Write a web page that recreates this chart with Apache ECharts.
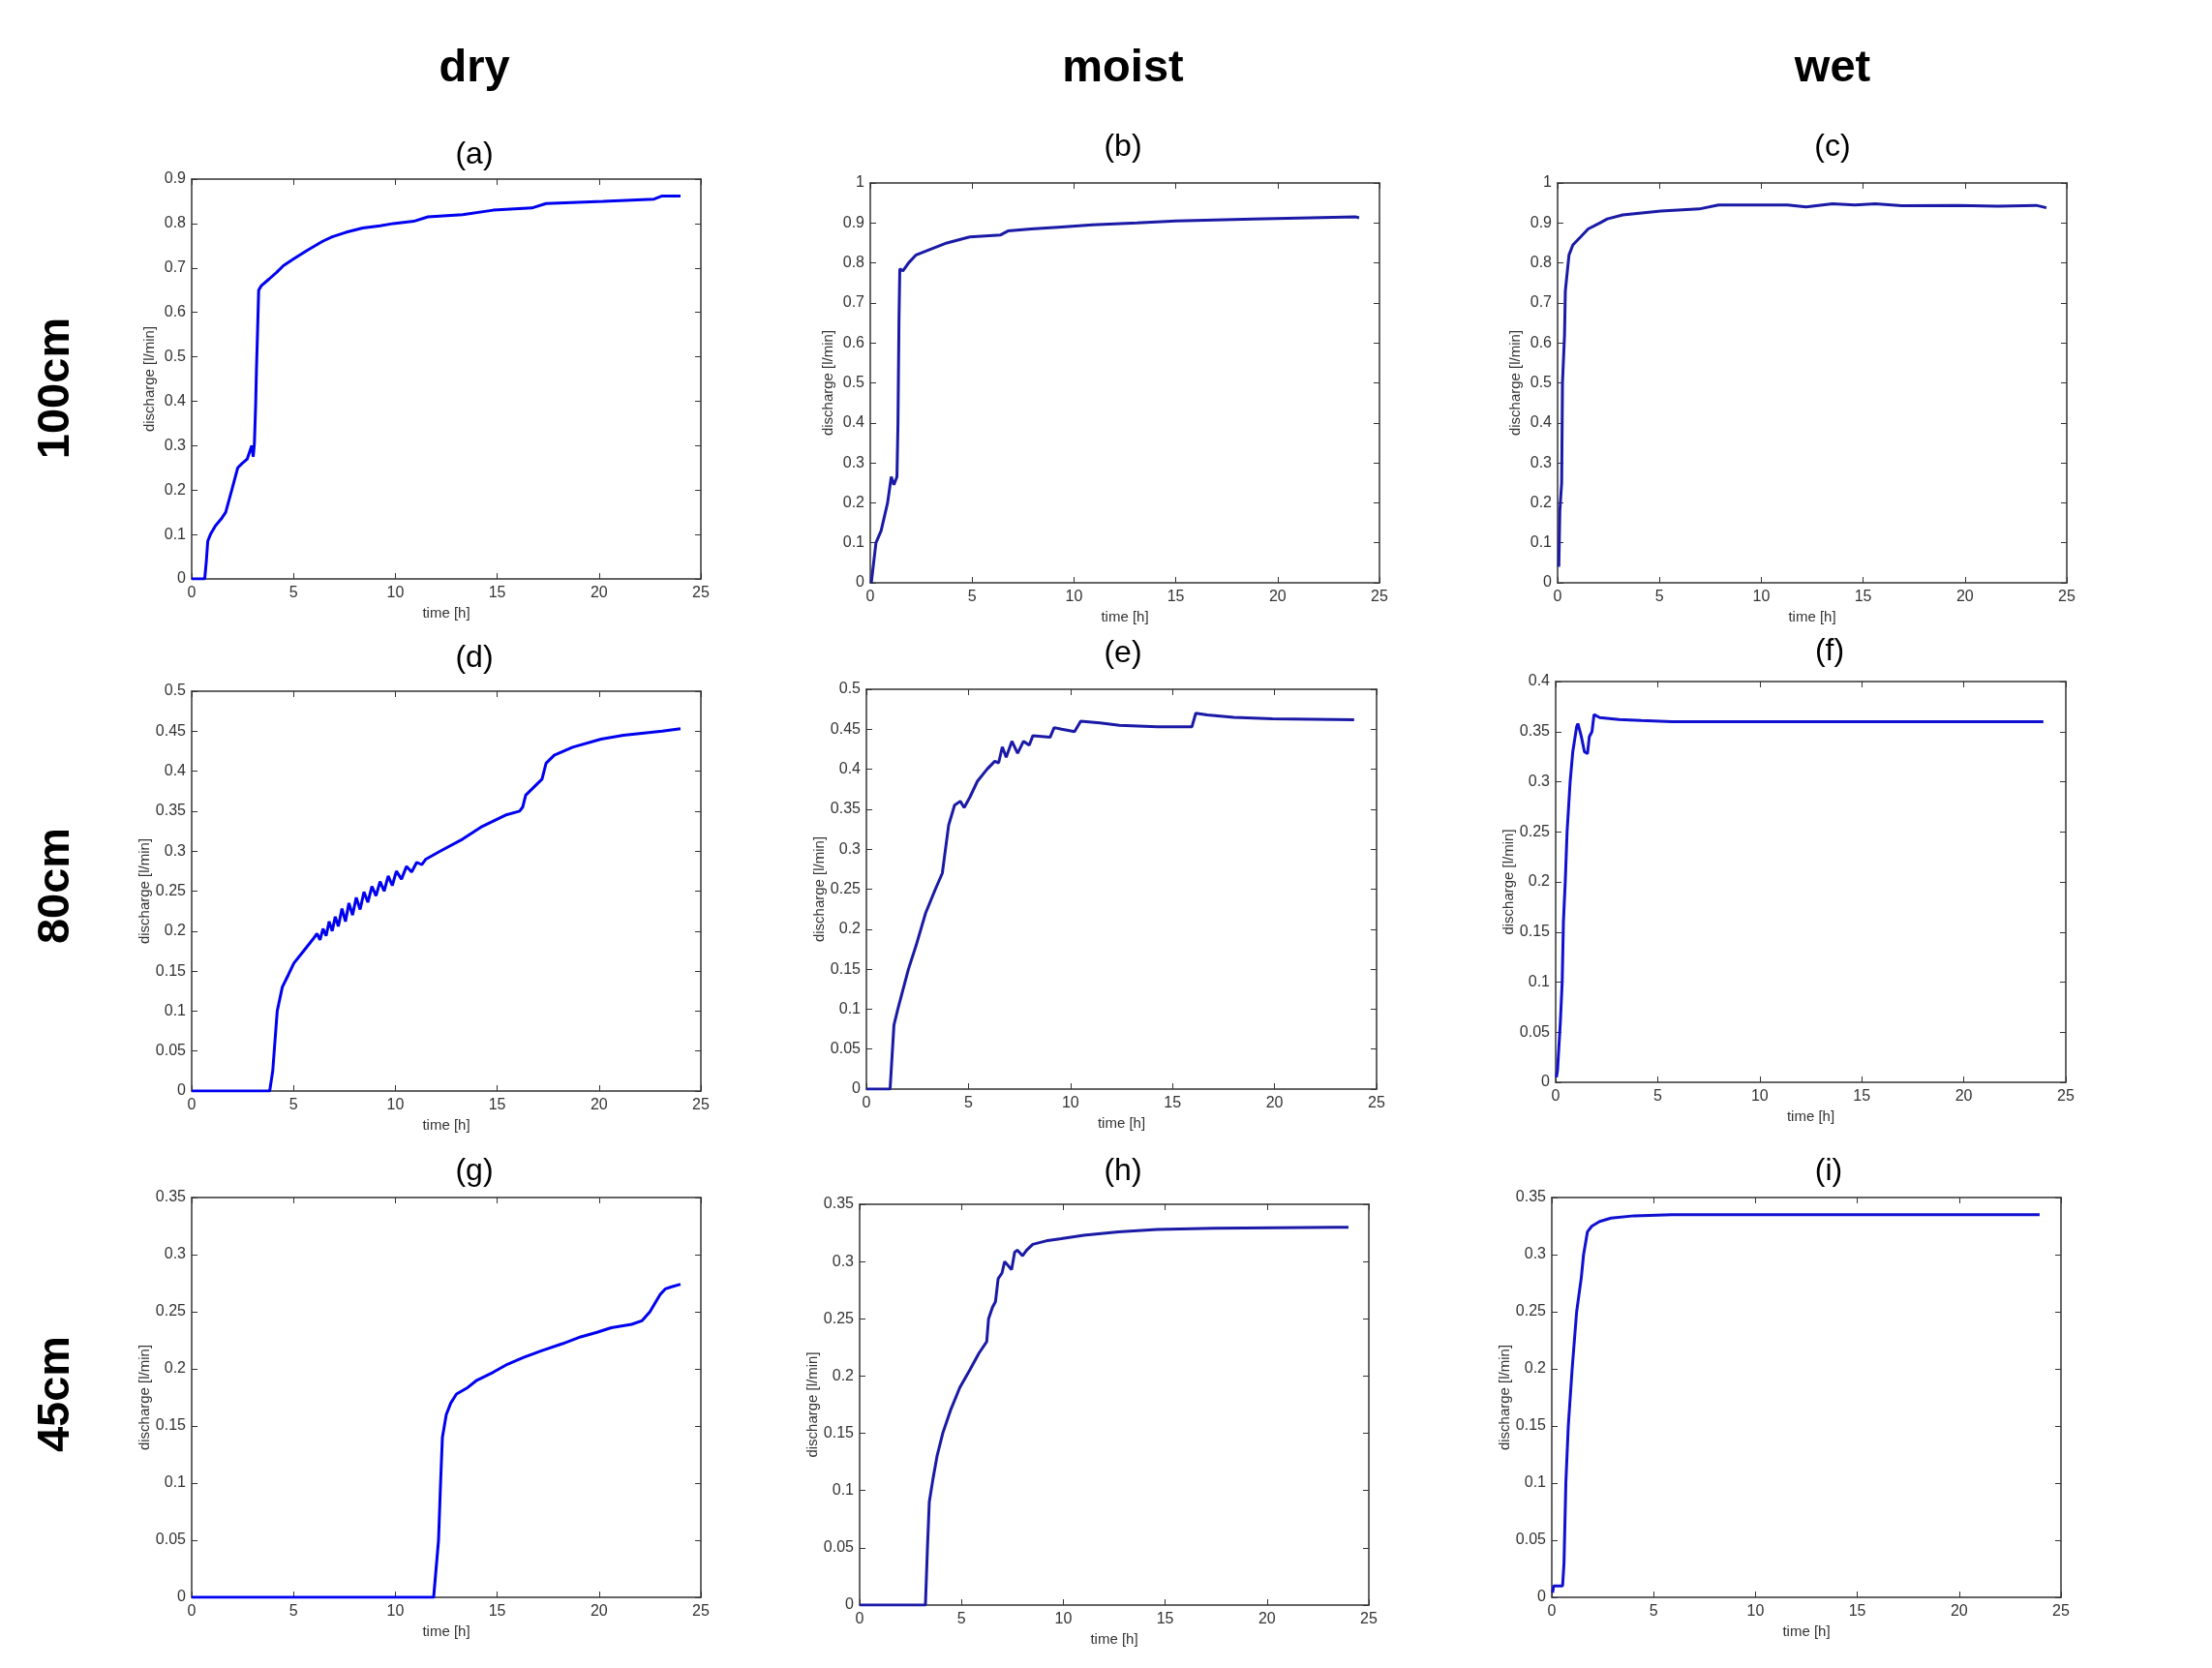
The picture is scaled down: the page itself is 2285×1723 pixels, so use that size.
<!DOCTYPE html>
<html>
<head>
<meta charset="utf-8">
<title>discharge</title>
<script src="https://cdn.jsdelivr.net/npm/echarts@6/dist/echarts.min.js"></script>
<style>
  html, body { margin: 0; padding: 0; background: #fff; }
  #main { width: 2285px; height: 1723px; }
</style>
</head>
<body>
<div id="main"></div>
<script>
// column / row headings
var columns = ['dry', 'moist', 'wet']
var rows = ['100cm', '80cm', '45cm']
var letters = ['(a)', '(b)', '(c)', '(d)', '(e)', '(f)', '(g)', '(h)', '(i)']

// y axis maxima and steps for each panel
var yMax = [0.9, 1, 1, 0.5, 0.5, 0.4, 0.35, 0.35, 0.35]
var yStep = [0.1, 0.1, 0.1, 0.05, 0.05, 0.05, 0.05, 0.05, 0.05]

// (a) dry 100cm
var tA = [0, 0.64, 0.72, 0.79, 0.92, 1.17, 1.45, 1.67, 1.97, 2.26, 2.48, 2.73, 2.95, 3.02, 3.08, 3.14, 3.18, 3.23, 3.29, 3.42, 3.8, 4.17, 4.5, 5.0, 5.68, 6.43, 6.9, 7.56, 8.4, 9.25, 9.9, 10.9, 11.6, 13.3, 14.8, 16.7, 17.4, 20.2, 22.7, 23.1, 24.0]
var qA = [0, 0, 0.04, 0.085, 0.1, 0.12, 0.135, 0.15, 0.2, 0.25, 0.26, 0.27, 0.3, 0.275, 0.305, 0.39, 0.47, 0.55, 0.65, 0.66, 0.675, 0.69, 0.705, 0.72, 0.74, 0.76, 0.77, 0.78, 0.79, 0.795, 0.8, 0.805, 0.815, 0.82, 0.83, 0.835, 0.845, 0.85, 0.855, 0.862, 0.862]

// (b) moist 100cm
var tB = [0.05, 0.28, 0.53, 0.85, 1.03, 1.16, 1.31, 1.36, 1.41, 1.45, 1.6, 1.88, 2.25, 3.0, 3.76, 4.88, 6.4, 6.76, 7.9, 9.4, 10.9, 13.1, 15.0, 18.8, 23.85, 24.0]
var qB = [0, 0.1, 0.13, 0.2, 0.265, 0.245, 0.265, 0.4, 0.66, 0.785, 0.78, 0.8, 0.82, 0.835, 0.85, 0.865, 0.87, 0.88, 0.885, 0.89, 0.895, 0.9, 0.905, 0.91, 0.915, 0.913]

// (c) wet 100cm
var tC = [0.06, 0.11, 0.2, 0.24, 0.34, 0.38, 0.56, 0.75, 1.13, 1.5, 2.07, 2.44, 3.2, 4.13, 5.07, 6.95, 7.9, 11.3, 12.2, 13.5, 14.6, 15.6, 16.9, 19.7, 21.6, 23.5, 24.0]
var qC = [0.04, 0.18, 0.25, 0.5, 0.62, 0.73, 0.82, 0.845, 0.865, 0.885, 0.9, 0.91, 0.92, 0.925, 0.93, 0.935, 0.945, 0.945, 0.94, 0.948, 0.945, 0.948, 0.943, 0.944, 0.942, 0.944, 0.938]

// (d) dry 80cm
var tD = [0, 3.83, 3.98, 4.2, 4.45, 4.74, 5.02, 5.49, 5.96, 6.15, 6.3, 6.45, 6.6, 6.75, 6.9, 7.05, 7.2, 7.38, 7.55, 7.72, 7.9, 8.08, 8.27, 8.46, 8.65, 8.85, 9.05, 9.25, 9.45, 9.65, 9.85, 10.05, 10.3, 10.55, 10.8, 11.05, 11.3, 11.5, 12.2, 13.3, 14.2, 15.4, 16.1, 16.25, 16.4, 16.8, 17.2, 17.4, 17.8, 18.7, 20.1, 21.2, 23.1, 24.0]
var qD = [0, 0, 0.025, 0.1, 0.13, 0.145, 0.16, 0.175, 0.19, 0.197, 0.189, 0.203, 0.194, 0.212, 0.2, 0.218, 0.206, 0.228, 0.212, 0.235, 0.22, 0.242, 0.227, 0.249, 0.236, 0.256, 0.244, 0.262, 0.25, 0.269, 0.257, 0.275, 0.265, 0.281, 0.274, 0.286, 0.283, 0.29, 0.3, 0.315, 0.33, 0.345, 0.35, 0.355, 0.37, 0.38, 0.39, 0.41, 0.42, 0.43, 0.44, 0.445, 0.45, 0.453]

// (e) moist 80cm
var tE = [0, 1.16, 1.35, 1.54, 2.06, 2.44, 2.9, 3.38, 3.72, 4.03, 4.32, 4.6, 4.79, 5.07, 5.44, 5.91, 6.29, 6.48, 6.66, 6.85, 7.13, 7.41, 7.7, 7.98, 8.16, 9.0, 9.2, 9.57, 10.2, 10.5, 11.45, 12.4, 14.26, 15.95, 16.14, 16.7, 18.0, 19.9, 23.9]
var qE = [0, 0, 0.08, 0.1, 0.15, 0.18, 0.22, 0.25, 0.27, 0.33, 0.355, 0.36, 0.352, 0.365, 0.385, 0.4, 0.41, 0.408, 0.428, 0.415, 0.435, 0.42, 0.435, 0.43, 0.442, 0.44, 0.452, 0.45, 0.447, 0.46, 0.458, 0.455, 0.453, 0.453, 0.47, 0.468, 0.465, 0.463, 0.462]

// (f) wet 80cm
var tF = [0.04, 0.09, 0.23, 0.32, 0.38, 0.47, 0.56, 0.71, 0.84, 1.03, 1.09, 1.26, 1.41, 1.56, 1.65, 1.78, 1.88, 2.16, 3.1, 4.2, 5.7, 23.9]
var qF = [0.005, 0.012, 0.06, 0.1, 0.16, 0.2, 0.25, 0.3, 0.33, 0.355, 0.358, 0.345, 0.33, 0.328, 0.345, 0.35, 0.367, 0.364, 0.362, 0.361, 0.36, 0.36]

// (g) dry 45cm
var tG = [0, 11.88, 12.12, 12.22, 12.31, 12.5, 12.72, 13.0, 13.5, 14.0, 14.8, 15.5, 16.3, 17.2, 18.2, 19.1, 19.9, 20.6, 21.6, 22.1, 22.5, 23.0, 23.25, 23.6, 24.0]
var qG = [0, 0, 0.05, 0.1, 0.14, 0.16, 0.17, 0.178, 0.183, 0.19, 0.197, 0.204, 0.21, 0.216, 0.222, 0.228, 0.232, 0.236, 0.239, 0.242, 0.25, 0.265, 0.27, 0.272, 0.274]

// (h) moist 45cm
var tH = [0, 3.23, 3.33, 3.42, 3.6, 3.8, 4.08, 4.46, 4.92, 5.4, 5.86, 6.24, 6.33, 6.52, 6.67, 6.8, 6.99, 7.12, 7.46, 7.61, 7.74, 8.0, 8.2, 8.5, 9.15, 9.9, 11.0, 12.7, 14.6, 17.4, 23.4, 24.0]
var qH = [0, 0, 0.05, 0.09, 0.11, 0.13, 0.15, 0.17, 0.19, 0.205, 0.22, 0.23, 0.25, 0.26, 0.265, 0.285, 0.29, 0.3, 0.293, 0.308, 0.31, 0.305, 0.31, 0.315, 0.318, 0.32, 0.323, 0.326, 0.328, 0.329, 0.33, 0.33]

// (i) wet 45cm
var tI = [0.04, 0.09, 0.53, 0.6, 0.69, 0.81, 1.0, 1.22, 1.45, 1.56, 1.75, 1.97, 2.35, 2.91, 4.04, 5.9, 23.95]
var qI = [0.004, 0.01, 0.01, 0.03, 0.1, 0.15, 0.2, 0.25, 0.28, 0.3, 0.32, 0.325, 0.329, 0.332, 0.334, 0.335, 0.335]

var times = [tA, tB, tC, tD, tE, tF, tG, tH, tI]
var flows = [qA, qB, qC, qD, qE, qF, qG, qH, qI]

// plot boxes (px)
var boxes = [
  [198, 185, 526, 413], [899, 189, 526, 413], [1609, 189, 526, 413],
  [198, 714, 526, 413], [895, 712, 527, 413], [1607, 704, 527, 414],
  [198, 1237, 526, 413], [888, 1244, 526, 414], [1603, 1237, 526, 413]
]
// where the (a)..(i) letters sit
var letterPos = [
  [490, 160], [1160, 152], [1893, 152],
  [490, 680], [1160, 675], [1890, 673],
  [490, 1210], [1160, 1210], [1889, 1210]
]
var lineColors = ['#0000f0', '#1a1aa6', '#1a1aa6', '#0000f0', '#1a1aa6', '#1010d0', '#0000f0', '#1a1aa6', '#1010d0']

var font = 'Arial, "Liberation Sans", Helvetica, sans-serif'
var axisCol = '#333'

var chart = echarts.init(document.getElementById('main'))

var grid = [], xAxis = [], yAxis = [], series = [], graphic = []

for (var i = 0; i < 9; i++) {
  var b = boxes[i]
  grid.push({ left: b[0], top: b[1], width: b[2], height: b[3], show: false })

  var tick = { show: true, inside: true, length: 6, lineStyle: { color: axisCol, width: 1 } }
  var line = { show: true, onZero: false, lineStyle: { color: axisCol, width: 1.5 } }

  // bottom x
  xAxis.push({
    gridIndex: i, type: 'value', min: 0, max: 25, interval: 5,
    axisLine: line, axisTick: tick, splitLine: { show: false },
    axisLabel: { color: axisCol, fontSize: 16, fontFamily: font, margin: 7 },
    name: 'time [h]', nameLocation: 'middle', nameGap: 28,
    nameTextStyle: { color: axisCol, fontSize: 15, fontFamily: font }
  })
  // top x (box edge)
  xAxis.push({
    gridIndex: i, type: 'value', min: 0, max: 25, interval: 5, position: 'top',
    axisLine: line, axisTick: tick, splitLine: { show: false }, axisLabel: { show: false }
  })
  // left y
  yAxis.push({
    gridIndex: i, type: 'value', min: 0, max: yMax[i], interval: yStep[i],
    axisLine: line, axisTick: tick, splitLine: { show: false },
    axisLabel: { color: axisCol, fontSize: 16, fontFamily: font, margin: 6 },
    name: 'discharge [l/min]', nameLocation: 'middle', nameGap: 36, nameRotate: 90,
    nameTextStyle: { color: axisCol, fontSize: 15, fontFamily: font }
  })
  // right y (box edge)
  yAxis.push({
    gridIndex: i, type: 'value', min: 0, max: yMax[i], interval: yStep[i], position: 'right',
    axisLine: line, axisTick: tick, splitLine: { show: false }, axisLabel: { show: false }
  })

  var pts = times[i].map(function (t, k) { return [t, flows[i][k]] })
  series.push({
    type: 'line', xAxisIndex: i * 2, yAxisIndex: i * 2, data: pts,
    showSymbol: false, symbol: 'none', smooth: false,
    lineStyle: { color: lineColors[i], width: 3 }
  })

  graphic.push({
    type: 'text', x: letterPos[i][0], y: letterPos[i][1],
    style: { text: letters[i], fill: '#000', font: '32px ' + font, align: 'center', verticalAlign: 'middle' }
  })
}

var colX = [490, 1160, 1893]
for (var c = 0; c < 3; c++) {
  graphic.push({
    type: 'text', x: colX[c], y: 71,
    style: { text: columns[c], fill: '#000', font: 'bold 47px ' + font, align: 'center', verticalAlign: 'middle' }
  })
}
var rowY = [401, 915, 1440]
for (var r = 0; r < 3; r++) {
  graphic.push({
    type: 'text', x: 58, y: rowY[r], rotation: Math.PI / 2,
    style: { text: rows[r], fill: '#000', font: 'bold 47px ' + font, align: 'center', verticalAlign: 'middle' }
  })
}

chart.setOption({
  animation: false,
  backgroundColor: '#fff',
  grid: grid,
  xAxis: xAxis,
  yAxis: yAxis,
  series: series,
  graphic: graphic
})
</script>
</body>
</html>
